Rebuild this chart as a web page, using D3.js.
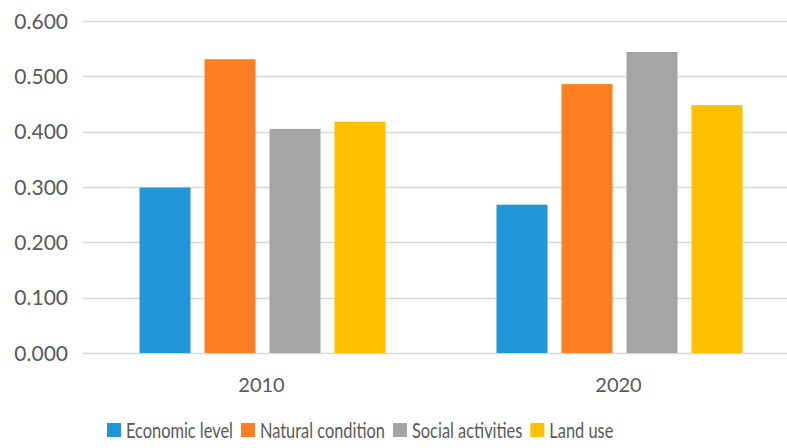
<!DOCTYPE html>
<html>
<head>
<meta charset="utf-8">
<script src="https://cdn.jsdelivr.net/npm/d3@7"></script>
<style>
  html, body { margin: 0; padding: 0; background: #fff; }
  svg { display: block; }
  text { font-family: Lato, "Open Sans", sans-serif; fill: #595959; }
</style>
</head>
<body>
<div id="chart"></div>
<script>
const categories = ["2010", "2020"];
const seriesNames = ["Economic level", "Natural condition", "Social activities", "Land use"];
const economicLevel = [0.299, 0.268];
const naturalCondition = [0.531, 0.486];
const socialActivities = [0.405, 0.544];
const landUse = [0.418, 0.448];
const yTicks = [0, 0.1, 0.2, 0.3, 0.4, 0.5, 0.6];
const colors = ["#2196d8", "#fe7f22", "#a5a5a5", "#ffc000"];

const seriesValues = [economicLevel, naturalCondition, socialActivities, landUse];

const W = 787, H = 448;
const svg = d3.select("#chart").append("svg").attr("width", W).attr("height", H);

const y = d3.scaleLinear().domain([0, 0.6]).range([353, 21]);
const x0 = d3.scaleBand().domain(categories).range([84, 798]).paddingInner(0).paddingOuter(0);
const x1 = d3.scaleBand().domain(seriesNames).range([0, x0.bandwidth()]).paddingInner(0.215).paddingOuter(0.854);

// gridlines
svg.append("g").selectAll("line").data(yTicks).join("line")
  .attr("x1", 83).attr("x2", W)
  .attr("y1", d => Math.round(y(d)) + 0.5).attr("y2", d => Math.round(y(d)) + 0.5)
  .attr("stroke", "#d9d9d9").attr("stroke-width", 1.5);

// y labels
svg.append("g").selectAll("text").data(yTicks).join("text")
  .attr("x", 68).attr("y", d => y(d))
  .attr("dy", "0.36em")
  .attr("text-anchor", "end")
  .style("font-size", "21px")
  .text(d => d3.format(".3f")(d));

// bars
const groups = svg.append("g").selectAll("g").data(categories).join("g")
  .attr("transform", d => `translate(${x0(d)},0)`);
groups.selectAll("rect").data((c, ci) => seriesNames.map((s, si) => ({ s, si, v: seriesValues[si][ci] })))
  .join("rect")
  .attr("x", d => x1(d.s))
  .attr("width", x1.bandwidth())
  .attr("y", d => y(d.v))
  .attr("height", d => y(0) - y(d.v))
  .attr("fill", d => colors[d.si]);

// category labels
svg.append("g").selectAll("text").data(categories).join("text")
  .attr("x", d => x0(d) + x0.bandwidth() / 2 - 1)
  .attr("y", 392)
  .attr("text-anchor", "middle")
  .style("font-size", "20px")
  .text(d => d);

// legend
const legend = svg.append("g").attr("class", "legend");
let lx = 107;
seriesNames.forEach((name, i) => {
  legend.append("rect").attr("x", lx).attr("y", 423).attr("width", 14).attr("height", 14).attr("fill", colors[i]);
  const t = legend.append("text").attr("x", lx + 19).attr("y", 437.5).style("font-size", "21px").text(name);
  const w = t.node().getComputedTextLength() * 0.78;
  t.attr("textLength", w).attr("lengthAdjust", "spacingAndGlyphs");
  lx += 19 + w + 8;
});
</script>
</body>
</html>
